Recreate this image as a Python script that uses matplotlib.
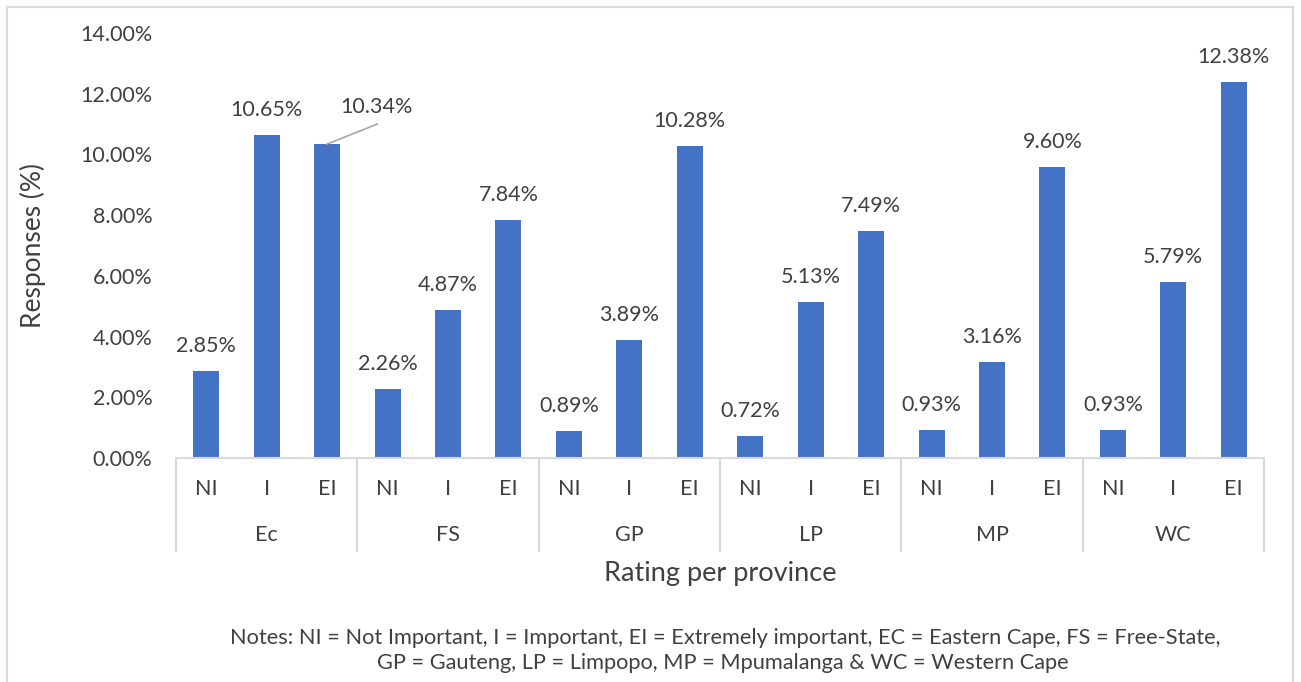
import matplotlib
matplotlib.use('Agg')
import matplotlib.pyplot as plt
import matplotlib.transforms as mtransforms
from matplotlib.lines import Line2D

# data
provinces = ['Ec', 'FS', 'GP', 'LP', 'MP', 'WC']
ratings = ['NI', 'I', 'EI']
values = [
    [2.85, 10.65, 10.34],
    [2.26, 4.87, 7.84],
    [0.89, 3.89, 10.28],
    [0.72, 5.13, 7.49],
    [0.93, 3.16, 9.60],
    [0.93, 5.79, 12.38],
]
yticks = [0, 2, 4, 6, 8, 10, 12, 14]
notes1 = 'Notes: NI = Not Important, I = Important, EI = Extremely important, EC = Eastern Cape, FS = Free-State,'
notes2 = 'GP = Gauteng, LP = Limpopo, MP = Mpumalanga & WC = Western Cape'

plt.rcParams['font.family'] = ['Lato', 'DejaVu Sans']
txt = '#404040'
blue = '#4472C4'
W, H = 1301, 682
fs = 15.5

fig = plt.figure(figsize=(W / 100, H / 100), dpi=100)
ax = fig.add_axes([176 / W, 224 / H, 1088 / W, 425 / H])

xs, ys = [], []
for g, row in enumerate(values):
    for r, v in enumerate(row):
        xs.append(g * 3 + r)
        ys.append(v)
ax.bar(xs, ys, width=0.43, color=blue, zorder=2)

ax.set_xlim(-0.5, len(xs) - 0.5)
ax.set_ylim(0, 14)
ax.set_yticks(yticks)
ax.set_yticklabels(['%.2f%%' % t for t in yticks], fontsize=fs, color=txt)
ax.tick_params(axis='y', length=0, pad=17)
ax.set_xticks([])
for s in ['top', 'right', 'left']:
    ax.spines[s].set_visible(False)
ax.spines['bottom'].set_color('#d9d9d9')
ax.spines['bottom'].set_linewidth(1.5)

# data labels
for x, v in zip(xs, ys):
    if x == 2:
        ax.annotate('%.2f%%' % v, xy=(x, v), xytext=(x + 0.81, 11.56),
                    ha='center', va='center', fontsize=fs, color=txt)
        ax.add_line(Line2D([x, x + 0.83], [v, 11.0], color='#a6a6a6', lw=1.2))
    else:
        ax.annotate('%.2f%%' % v, xy=(x, v), xytext=(0, 18), textcoords='offset points',
                    ha='center', va='center', fontsize=fs, color=txt)

# category axis: rating labels, province labels, separators
trans = mtransforms.blended_transform_factory(ax.transData, ax.transAxes)
for x in xs:
    ax.text(x, -31 / 425, ratings[x % 3], transform=trans, ha='center', va='center',
            fontsize=fs, color=txt)
for g, p in enumerate(provinces):
    ax.text(g * 3 + 1, -77 / 425, p, transform=trans, ha='center', va='center',
            fontsize=fs, color=txt)
for g in range(len(provinces) + 1):
    ax.add_line(Line2D([g * 3 - 0.5] * 2, [0, -93 / 425], transform=trans,
                       color='#d9d9d9', lw=1.5, clip_on=False))

ax.text(0.5, -115 / 425, 'Rating per province', transform=ax.transAxes,
        ha='center', va='center', fontsize=19.5, color=txt)
fig.text(33 / W, 1 - 245 / H, 'Responses (%)', rotation=90, ha='center', va='center',
         fontsize=19, color=txt)

fig.text(725 / W, 1 - 638 / H, notes1, ha='center', va='center', fontsize=15.7, color=txt)
fig.text(723 / W, 1 - 663 / H, notes2, ha='center', va='center', fontsize=15.7, color=txt)

# outer chart frame
fcol = '#d9d9d9'
fig.add_artist(Line2D([7 / W, 7 / W], [-0.05, 1 - 7 / H], color=fcol, lw=1.5))
fig.add_artist(Line2D([1293 / W, 1293 / W], [-0.05, 1 - 7 / H], color=fcol, lw=1.5))
fig.add_artist(Line2D([7 / W, 1293 / W], [1 - 7 / H, 1 - 7 / H], color=fcol, lw=1.5))

fig.savefig('out.png', dpi=100)
